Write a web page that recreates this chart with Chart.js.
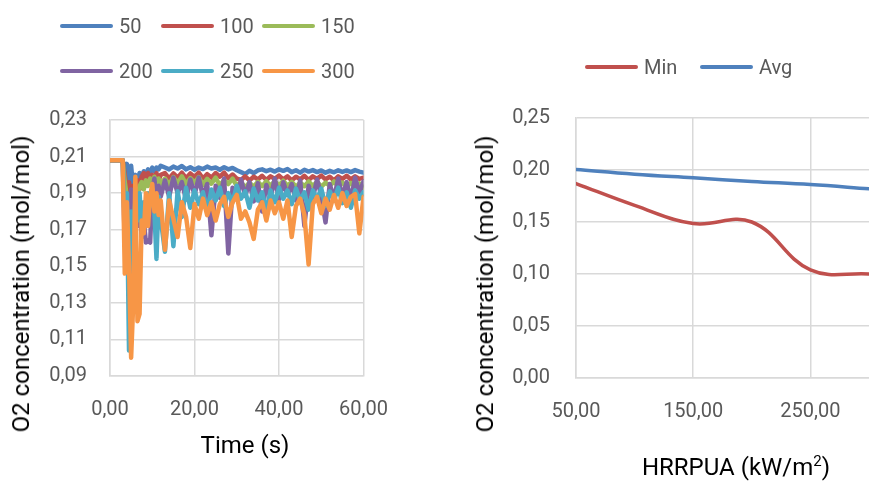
<!DOCTYPE html>
<html>
<head>
<meta charset="utf-8">
<title>O2 concentration</title>
<script src="https://cdn.jsdelivr.net/npm/chart.js@4.4.1/dist/chart.umd.min.js"></script>
<style>
    html, body { margin: 0; padding: 0; background: #ffffff; overflow: hidden; }
    body { width: 869px; height: 483px; position: relative; font-family: Roboto, sans-serif; }
    canvas { position: absolute; top: 0; }
    #timeChart { left: 0; }
    #hrrChart { left: 440px; }
    .legend { position: absolute; display: flex; flex-wrap: wrap; font-size: 20px; color: #595959; }
    .legend-item { display: flex; align-items: center; height: 24px; margin-bottom: 21px; }
    .legend-line { height: 4px; border-radius: 2px; margin-right: 6px; }
    .axis-title { position: absolute; white-space: nowrap; font-size: 24px; color: #000000; transform: translate(-50%, -50%); }
    .axis-title.vertical { transform: translate(-50%, -50%) rotate(-90deg); }
    .axis-title sup { font-size: 15px; }
</style>
</head>
<body>
<canvas id="timeChart" width="410" height="483"></canvas>
<canvas id="hrrChart" width="429" height="483"></canvas>

<div class="legend" id="timeLegend" style="left: 60px; top: 14px; width: 303px;"></div>
<div class="legend" id="hrrLegend" style="left: 585px; top: 55px; width: 240px;"></div>

<div class="axis-title vertical" style="left: 21px; top: 284px;">O2 concentration (mol/mol)</div>
<div class="axis-title" style="left: 245px; top: 445px;">Time (s)</div>
<div class="axis-title vertical" style="left: 485px; top: 284px;">O2 concentration (mol/mol)</div>
<div class="axis-title" style="left: 736px; top: 466px;">HRRPUA (kW/m<sup>2</sup>)</div>

<script>
// Left panel: O2 concentration over time for each HRRPUA case
const timeSteps = [0, 1, 2, 3, 3.5, 4, 4.5, 5, 5.5, 6, 6.5, 7, 7.5, 8, 8.5, 9, 9.5, 10, 10.5, 11, 11.5, 12,
    13, 14, 15, 16, 17, 18, 19, 20, 21, 22, 23, 24, 25, 26, 27, 28, 29, 30, 31, 32, 33, 34, 35, 36,
    37, 38, 39, 40, 41, 42, 43, 44, 45, 46, 47, 48, 49, 50, 51, 52, 53, 54, 55, 56, 57, 58, 59, 60];

const caseNames = ['50', '100', '150', '200', '250', '300'];
const caseColors = ['#4F81BD', '#C0504D', '#9BBB59', '#8064A2', '#4BACC6', '#F79646'];

const o2Case50 = [0.208, 0.208, 0.208, 0.208, 0.199, 0.206, 0.186, 0.205, 0.192, 0.200, 0.196, 0.201, 0.198, 0.202, 0.200, 0.203, 0.201, 0.204, 0.202, 0.204, 0.203, 0.205,
    0.2040, 0.2030, 0.2045, 0.2035, 0.2048, 0.2030, 0.2042, 0.2028, 0.2040, 0.2032, 0.2045, 0.2035, 0.2040, 0.2028, 0.2042, 0.2030,
    0.2038, 0.2025, 0.2015, 0.2005, 0.2022, 0.2010, 0.2025, 0.2030, 0.2020, 0.2028, 0.2018, 0.2030, 0.2022, 0.2032, 0.2015, 0.2025,
    0.2012, 0.2028, 0.2018, 0.2026, 0.2015, 0.2024, 0.2012, 0.2022, 0.2014, 0.2025, 0.2016, 0.2024, 0.2015, 0.2026, 0.2018, 0.2012];

const o2Case100 = [0.208, 0.208, 0.208, 0.208, 0.200, 0.190, 0.196, 0.186, 0.194, 0.190, 0.197, 0.192, 0.199, 0.201, 0.196, 0.201, 0.197, 0.200, 0.198, 0.201, 0.197, 0.200,
    0.2010, 0.1980, 0.2008, 0.1985, 0.2012, 0.1982, 0.2008, 0.1988, 0.2012, 0.1980, 0.2004, 0.1985, 0.2010, 0.1990, 0.2012, 0.1982,
    0.2002, 0.1980, 0.1972, 0.1992, 0.1970, 0.1990, 0.1975, 0.1995, 0.1972, 0.1992, 0.1978, 0.1996, 0.1975, 0.1992, 0.1970, 0.1990,
    0.1975, 0.1995, 0.1972, 0.1992, 0.1978, 0.1996, 0.1975, 0.1990, 0.1970, 0.1992, 0.1978, 0.1995, 0.1975, 0.1992, 0.1978, 0.1985];

const o2Case150 = [0.208, 0.208, 0.208, 0.208, 0.196, 0.188, 0.180, 0.190, 0.184, 0.192, 0.188, 0.194, 0.196, 0.192, 0.197, 0.194, 0.198, 0.195, 0.199, 0.196, 0.198, 0.195,
    0.1980, 0.1945, 0.1988, 0.1955, 0.1992, 0.1950, 0.1982, 0.1958, 0.1988, 0.1945, 0.1978, 0.1952, 0.1985, 0.1942, 0.1972, 0.1950,
    0.1980, 0.1940, 0.1962, 0.1930, 0.1958, 0.1935, 0.1962, 0.1938, 0.1965, 0.1940, 0.1966, 0.1942, 0.1968, 0.1940, 0.1962, 0.1935,
    0.1958, 0.1938, 0.1964, 0.1940, 0.1962, 0.1935, 0.1958, 0.1940, 0.1964, 0.1938, 0.1958, 0.1932, 0.1956, 0.1936, 0.1954, 0.1930];

const o2Case200 = [0.208, 0.208, 0.208, 0.208, 0.161, 0.185, 0.170, 0.192, 0.178, 0.188, 0.172, 0.186, 0.166, 0.175, 0.163, 0.164, 0.163, 0.190, 0.198, 0.185, 0.194, 0.188,
    0.1970, 0.1880, 0.1985, 0.1900, 0.1960, 0.1865, 0.1975, 0.1890, 0.1985, 0.1880, 0.1950, 0.1670, 0.1940, 0.1875, 0.1980, 0.1570,
    0.1930, 0.1870, 0.1975, 0.1885, 0.1960, 0.1855, 0.1955, 0.1800, 0.1945, 0.1875, 0.1980, 0.1865, 0.1960, 0.1890, 0.1950, 0.1860,
    0.1970, 0.1720, 0.1940, 0.1875, 0.1975, 0.1885, 0.1740, 0.1950, 0.1870, 0.1980, 0.1880, 0.1960, 0.1865, 0.1985, 0.1900, 0.1965];

const o2Case250 = [0.208, 0.208, 0.208, 0.208, 0.172, 0.190, 0.104, 0.180, 0.168, 0.186, 0.175, 0.190, 0.172, 0.185, 0.178, 0.190, 0.183, 0.192, 0.180, 0.154, 0.188, 0.176,
    0.1580, 0.1900, 0.1610, 0.1910, 0.1770, 0.1930, 0.1820, 0.1915, 0.1840, 0.1905, 0.1800, 0.1920, 0.1860, 0.1930, 0.1830, 0.1900,
    0.1850, 0.1940, 0.1870, 0.1910, 0.1820, 0.1925, 0.1860, 0.1905, 0.1800, 0.1915, 0.1850, 0.1930, 0.1870, 0.1915, 0.1840, 0.1925,
    0.1860, 0.1905, 0.1810, 0.1915, 0.1865, 0.1925, 0.1830, 0.1910, 0.1860, 0.1930, 0.1845, 0.1905, 0.1820, 0.1915, 0.1870, 0.1905];

const o2Case300 = [0.208, 0.208, 0.208, 0.208, 0.146, 0.185, 0.150, 0.100, 0.130, 0.199, 0.120, 0.124, 0.175, 0.168, 0.190, 0.172, 0.188, 0.195, 0.180, 0.190, 0.178, 0.186,
    0.1590, 0.1860, 0.1760, 0.1660, 0.1850, 0.1770, 0.1600, 0.1840, 0.1760, 0.1870, 0.1780, 0.1850, 0.1750, 0.1840, 0.1880, 0.1770,
    0.1850, 0.1890, 0.1760, 0.1800, 0.1740, 0.1650, 0.1810, 0.1850, 0.1750, 0.1860, 0.1790, 0.1850, 0.1760, 0.1860, 0.1660, 0.1830,
    0.1870, 0.1780, 0.1510, 0.1840, 0.1880, 0.1790, 0.1870, 0.1810, 0.1890, 0.1820, 0.1900, 0.1830, 0.1880, 0.1895, 0.1680, 0.1880];

const timeTicks = [0, 20, 40, 60];
const timeO2Ticks = [0.09, 0.11, 0.13, 0.15, 0.17, 0.19, 0.21, 0.23];

// Right panel: minimum and average O2 against HRRPUA
const hrrpuaValues = [50, 100, 150, 200, 250, 300];
const minO2 = [0.187, 0.166, 0.1485, 0.150, 0.104, 0.100];
const avgO2 = [0.2005, 0.196, 0.1925, 0.189, 0.186, 0.182];
const hrrNames = ['Min', 'Avg'];
const hrrColors = ['#C0504D', '#4F81BD'];
const hrrpuaTicks = [50, 150, 250];
const hrrO2Ticks = [0, 0.05, 0.10, 0.15, 0.20, 0.25];

const gridColor = '#D9D9D9';
const tickColor = '#595959';

document.addEventListener('DOMContentLoaded', function() {
    createTimeChart();
    createHrrChart();
    createLegend('timeLegend', caseNames, caseColors, 101, 53);
    createLegend('hrrLegend', hrrNames, hrrColors, 115, 53);
});

// Format a number with comma decimals, like the source workbook
function commaFormat(value) {
    return Number(value).toFixed(2).replace('.', ',');
}

// Build an axis with fixed ticks
function makeAxis(min, max, ticks, size, isX, tickPad) {
    return {
        type: 'linear',
        min: min,
        max: max,
        afterBuildTicks: function(axis) {
            axis.ticks = ticks.map(v => ({ value: v }));
        },
        afterFit: function(axis) {
            if (isX) {
                axis.height = size;
            } else {
                axis.width = size;
            }
        },
        grid: { color: gridColor, lineWidth: 1.5, drawTicks: false },
        border: { color: gridColor, width: 1.5 },
        ticks: {
            padding: tickPad,
            color: tickColor,
            font: { family: 'Roboto', size: 20 },
            maxRotation: 0,
            autoSkip: false,
            callback: function(value) { return commaFormat(value); }
        }
    };
}

function createTimeChart() {
    const ctx = document.getElementById('timeChart');
    const allSeries = [o2Case50, o2Case100, o2Case150, o2Case200, o2Case250, o2Case300];

    const datasets = allSeries.map((series, i) => ({
        label: caseNames[i],
        data: timeSteps.map((t, j) => ({ x: t, y: series[j] })),
        borderColor: caseColors[i],
        backgroundColor: caseColors[i],
        borderWidth: 4.5,
        pointRadius: 0,
        tension: 0,
        borderJoinStyle: 'round',
        borderCapStyle: 'round',
        order: allSeries.length - 1 - i   // later cases drawn on top
    }));

    new Chart(ctx, {
        type: 'line',
        data: { datasets: datasets },
        options: {
            responsive: false,
            animation: false,
            layout: { padding: { left: 0, right: 30, top: 120, bottom: 0 } },
            plugins: { legend: { display: false }, tooltip: { enabled: false } },
            scales: {
                x: makeAxis(0, 60, timeTicks, 107, true, 22),
                y: makeAxis(0.09, 0.23, timeO2Ticks, 110, false, 23)
            }
        }
    });
}

function createHrrChart() {
    const ctx = document.getElementById('hrrChart');
    const allSeries = [minO2, avgO2];

    const datasets = allSeries.map((series, i) => ({
        label: hrrNames[i],
        data: hrrpuaValues.map((h, j) => ({ x: h, y: series[j] })),
        borderColor: hrrColors[i],
        backgroundColor: hrrColors[i],
        borderWidth: 3.5,
        pointRadius: 0,
        tension: 0.4,
        borderCapStyle: 'round'
    }));

    new Chart(ctx, {
        type: 'line',
        data: { datasets: datasets },
        options: {
            responsive: false,
            animation: false,
            layout: { padding: { left: 0, right: 0, top: 118, bottom: 0 } },
            plugins: { legend: { display: false }, tooltip: { enabled: false } },
            scales: {
                x: makeAxis(50, 300, hrrpuaTicks, 105, true, 22),
                y: makeAxis(0, 0.25, hrrO2Ticks, 136, false, 26)
            }
        }
    });
}

// Custom legend: short coloured line followed by the series name
function createLegend(containerId, labels, colors, itemWidth, lineWidth) {
    const legendContainer = document.getElementById(containerId);
    legendContainer.innerHTML = '';

    labels.forEach((label, index) => {
        const legendItem = document.createElement('div');
        legendItem.className = 'legend-item';
        legendItem.style.width = itemWidth + 'px';
        legendItem.innerHTML = `
            <div class="legend-line" style="width: ${lineWidth}px; background-color: ${colors[index]};"></div>
            <span>${label}</span>
        `;
        legendContainer.appendChild(legendItem);
    });
}
</script>
</body>
</html>
